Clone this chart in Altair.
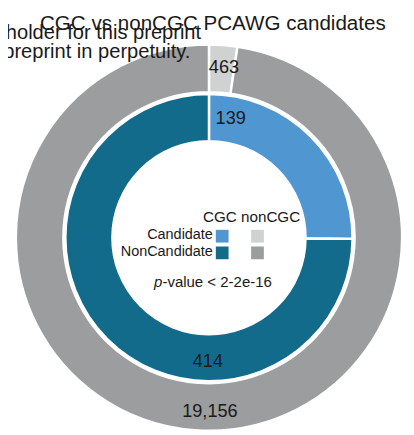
import altair as alt
import pandas as pd

# ---- data ----
groups = ["CGC", "CGC", "nonCGC", "nonCGC"]
statuses = ["Candidate", "NonCandidate", "Candidate", "NonCandidate"]
counts = [139, 414, 463, 19156]

title_text = "CGC vs nonCGC PCAWG candidates"
watermark_lines = ["holder for this preprint", "preprint in perpetuity."]
legend_header = "CGC nonCGC"
pvalue_rest = "-value < 2-2e-16"

# ---- style ----
FONT = "Liberation Sans"
TXT = "#1a1a1a"
color_domain = ["CGC Candidate", "CGC NonCandidate", "nonCGC Candidate", "nonCGC NonCandidate"]
color_range = ["#5097d2", "#136b8b", "#d0d1d1", "#9b9d9e"]
# where inside each slice its label sits (fraction of the slice)
label_k = {"CGC Candidate": 0.113, "CGC NonCandidate": 0.334,
           "nonCGC Candidate": 0.59, "nonCGC NonCandidate": 0.487}
OX = 4
CX, CY = 201 + OX, 230
# inner radius, outer radius, label radius
rings = {"nonCGC": (148.5, 197, 175.5), "CGC": (98.5, 146.5, 125)}

df = pd.DataFrame({"group": groups, "status": statuses, "value": counts})
df["key"] = df["group"] + " " + df["status"]
df["ord"] = [0 if s == "Candidate" else 1 for s in statuses]
df["k"] = [label_k[k] for k in df["key"]]

cscale = alt.Scale(domain=color_domain, range=color_range)
tscale = alt.Scale(domain=[0, 1])

layers = []
for g, (ri, ro, rm) in rings.items():
    base = (alt.Chart(df)
            .transform_filter(alt.datum.group == g)
            .transform_joinaggregate(total="sum(value)")
            .transform_calculate(frac="datum.value / datum.total"))
    arc = base.mark_arc(innerRadius=ri, outerRadius=ro, stroke="white", strokeWidth=2.5).encode(
        theta=alt.Theta("frac:Q", stack=True, scale=tscale),
        order=alt.Order("ord:Q"),
        color=alt.Color("key:N", scale=cscale, legend=None),
        x=alt.value(CX), y=alt.value(CY),
    )
    lab = (base
           .transform_window(cum="sum(frac)", sort=[alt.SortField("ord")], frame=[None, 0])
           .transform_calculate(lab="datum.cum - datum.frac * (1 - datum.k)")
           .mark_text(radius=rm, fontSize=18.5, font=FONT, color=TXT, dy=1)
           .encode(theta=alt.Theta("lab:Q", scale=tscale, stack=False),
                   text=alt.Text("value:Q", format=","),
                   x=alt.value(CX), y=alt.value(CY)))
    layers += [arc, lab]

# legend in the centre
xs = alt.Scale(type="point", domain=["CGC", "nonCGC"], range=[214.5 + OX, 250.5 + OX], padding=0)
ys = alt.Scale(type="point", domain=["Candidate", "NonCandidate"], range=[228.5, 245.5], padding=0)
squares = alt.Chart(df).mark_square(size=169, opacity=1).encode(
    x=alt.X("group:N", scale=xs, axis=None),
    y=alt.Y("status:N", scale=ys, axis=None),
    color=alt.Color("key:N", scale=cscale, legend=None),
)
rowlab = alt.Chart(pd.DataFrame({"status": ["Candidate", "NonCandidate"]})).mark_text(
    align="right", baseline="middle", fontSize=14.7, font=FONT, color=TXT, dy=-1
).encode(x=alt.value(205 + OX), y=alt.Y("status:N", scale=ys, axis=None), text="status:N")

one = pd.DataFrame({"a": [0]})
def txt(s, x, y, size, align="center", baseline="alphabetic", style="normal"):
    return alt.Chart(one).mark_text(text=s, align=align, baseline=baseline, fontSize=size,
                                    font=FONT, color=TXT, fontStyle=style).encode(
        x=alt.value(x + OX), y=alt.value(y))

texts = [
    txt(watermark_lines[0], 193, 27, 20.5, align="right"),
    txt(watermark_lines[1], 182, 47, 20.5, align="right"),
    txt(title_text, 205, 18, 21),
    txt(legend_header, 244.5, 214, 15.5),
    txt("p", 145, 280, 15.3, align="left", style="italic"),
    txt(pvalue_rest, 153.5, 280, 15.3, align="left"),
]

chart = alt.layer(*layers, squares, rowlab, *texts).properties(
    width=406, height=427, autosize=alt.AutoSizeParams(type="none"), padding=0,
    background="white"
).configure_view(stroke=None)

chart.save("out.html", embed_options={"renderer": "svg", "actions": False})
